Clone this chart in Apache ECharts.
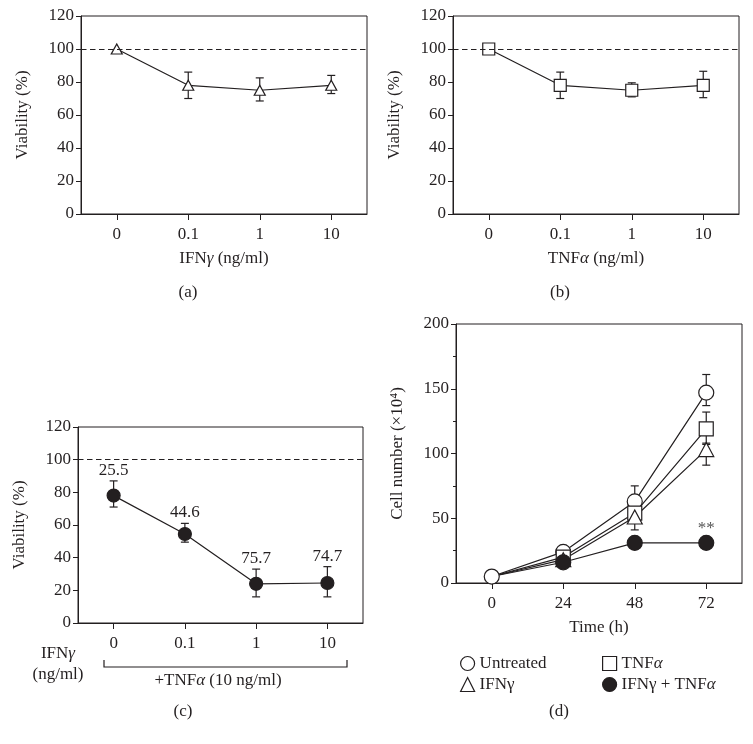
<!DOCTYPE html>
<html>
<head>
<meta charset="utf-8">
<script src="https://cdn.jsdelivr.net/npm/echarts@6/dist/echarts.min.js"></script>
<style>html,body{margin:0;padding:0;background:#fff}#c{width:753px;height:744px}</style>
</head>
<body>
<div id="c"></div>
<script>
// ---------- data ----------
const dosesABC = ['0', '0.1', '1', '10'];
const valsA = [100, 78, 75, 78];
const lowA  = [100, 70, 68.5, 73];
const highA = [100, 86, 82.5, 84];

const valsB = [100, 78, 75, 78];
const lowB  = [100, 70, 71, 70.5];
const highB = [100, 86, 79.5, 86.5];

const valsC = [78, 54.5, 24, 24.5];
const lowC  = [71, 49.5, 16, 16];
const highC = [87, 61, 33, 34.5];
const labelsC = ['25.5', '44.6', '75.7', '74.7'];

const timesD = ['0', '24', '48', '72'];
const untreated     = [5, 24, 63, 147];
const untreatedLow  = [5, 24, 52, 137];
const untreatedHigh = [5, 24, 75, 161];
const tnf     = [5, 20, 54, 119];
const tnfLow  = [5, 20, 50, 107];
const tnfHigh = [5, 20, 58, 132];
const ifn     = [5, 18, 51, 103];
const ifnLow  = [5, 18, 41, 91];
const ifnHigh = [5, 18, 55, 108];
const combo     = [5, 16, 31, 31];
const comboLow  = [5, 16, 31, 31];
const comboHigh = [5, 16, 31, 31];
const comboMark = ['', '', '', '**'];

const viabilityTicks = {min: 0, max: 120, interval: 20};
const cellTicks = {min: 0, max: 200, interval: 50};
const reference = 100;

// ---------- styles ----------
const INK = '#231f20';
const FONT = 'Liberation Serif';
const FS = 17;
const FONTCSS = FS + 'px "' + FONT + '"';
const RICH = {i: {fontStyle: 'italic', fontFamily: FONT, fontSize: FS, color: INK}};

function xAxis(idx, cats, name) {
  return {
    type: 'category', gridIndex: idx, data: cats, boundaryGap: true,
    axisLine: {show: true, lineStyle: {color: INK, width: 1}},
    axisTick: {show: true, alignWithLabel: true, length: 6, lineStyle: {color: INK}},
    axisLabel: {color: INK, fontFamily: FONT, fontSize: FS, margin: 12},
    splitLine: {show: false},
    name: name || '', nameLocation: 'middle', nameGap: 36,
    nameTextStyle: {color: INK, fontFamily: FONT, fontSize: FS, rich: RICH}
  };
}
function yAxis(idx, t, name, minor) {
  return {
    type: 'value', gridIndex: idx, min: t.min, max: t.max, interval: t.interval,
    axisLine: {show: true, lineStyle: {color: INK, width: 1}},
    axisTick: {show: true, length: 5, lineStyle: {color: INK}},
    minorTick: {show: !!minor, splitNumber: 2, length: 3, lineStyle: {color: INK}},
    axisLabel: {color: INK, fontFamily: FONT, fontSize: FS, margin: 7},
    splitLine: {show: false},
    name: name, nameLocation: 'middle', nameGap: 50,
    nameTextStyle: {color: INK, fontFamily: FONT, fontSize: FS}
  };
}
function errSeries(idx, low, high, cap) {
  return {
    type: 'custom', xAxisIndex: idx, yAxisIndex: idx, z: 1, silent: true,
    data: low.map((l, i) => [i, l, high[i]]),
    encode: {x: 0, y: [1, 2]},
    renderItem: function (params, api) {
      const lo = api.value(1), hi = api.value(2);
      if (lo === hi) return null;
      const p1 = api.coord([api.value(0), lo]);
      const p2 = api.coord([api.value(0), hi]);
      const st = {stroke: INK, lineWidth: 1.2};
      return {type: 'group', children: [
        {type: 'line', shape: {x1: p1[0], y1: p1[1], x2: p2[0], y2: p2[1]}, style: st},
        {type: 'line', shape: {x1: p1[0] - cap, y1: p1[1], x2: p1[0] + cap, y2: p1[1]}, style: st},
        {type: 'line', shape: {x1: p2[0] - cap, y1: p2[1], x2: p2[0] + cap, y2: p2[1]}, style: st}
      ]};
    }
  };
}
function textSeries(idx, vals, texts, offset, color) {
  return {
    type: 'custom', xAxisIndex: idx, yAxisIndex: idx, z: 5, silent: true,
    data: vals.map((v, i) => [i, v]),
    encode: {x: 0, y: 1},
    renderItem: function (params, api) {
      const t = texts[params.dataIndex];
      if (!t) return null;
      const p = api.coord([api.value(0), api.value(1)]);
      return {type: 'text', x: p[0], y: p[1] - offset,
        style: {text: t, fill: color || INK, font: FONTCSS, align: 'center', verticalAlign: 'bottom'}};
    }
  };
}
function lineSeries(idx, name, vals, symbol, size, fill, extra, hideFirst) {
  return Object.assign({
    type: 'line', name: name, xAxisIndex: idx, yAxisIndex: idx, z: 3,
    // the shared starting point (t = 0) is drawn once, by the untreated series
    data: vals.map((v, i) => (hideFirst && i === 0) ? {value: v, symbol: 'none'} : v),
    symbol: symbol, symbolSize: size, showSymbol: true,
    itemStyle: {color: fill, borderColor: INK, borderWidth: 1.2},
    lineStyle: {color: INK, width: 1.2},
    emphasis: {disabled: true}
  }, extra || {});
}
const refLine = {
  silent: true, symbol: 'none', label: {show: false},
  lineStyle: {color: INK, type: [5.5, 3.5], width: 1.2},
  data: [{yAxis: reference}]
};

const grids = [
  {left: 81, top: 16, width: 286, height: 198},
  {left: 453, top: 16, width: 286, height: 198},
  {left: 78, top: 427, width: 285, height: 196},
  {left: 456, top: 324, width: 286, height: 259}
].map(g => Object.assign({show: true, borderColor: INK, borderWidth: 1, backgroundColor: 'transparent'}, g));

const legendText = {color: INK, fontFamily: FONT, fontSize: FS, rich: RICH};
const legendFmt = n => n.replace(/α/g, '{i|α}');

function label(text, x, y, extra) {
  return {type: 'text', x: x, y: y, silent: true,
    style: Object.assign({text: text, font: FONTCSS, fill: INK, align: 'center', verticalAlign: 'middle'}, extra || {})};
}

const option = {
  animation: false,
  backgroundColor: '#fff',
  textStyle: {fontFamily: FONT},
  grid: grids,
  xAxis: [
    xAxis(0, dosesABC, 'IFN{i|γ} (ng/ml)'),
    xAxis(1, dosesABC, 'TNF{i|α} (ng/ml)'),
    xAxis(2, dosesABC, ''),
    xAxis(3, timesD, 'Time (h)')
  ],
  yAxis: [
    yAxis(0, viabilityTicks, 'Viability (%)'),
    yAxis(1, viabilityTicks, 'Viability (%)'),
    yAxis(2, viabilityTicks, 'Viability (%)'),
    yAxis(3, cellTicks, 'Cell number (×10⁴)', true)
  ],
  legend: [
    {orient: 'vertical', left: 455, top: 650, itemWidth: 14, itemHeight: 14, itemGap: 4,
     textStyle: legendText, formatter: legendFmt, selectedMode: false,
     data: [
       {name: 'Untreated', icon: 'circle', itemStyle: {color: '#fff', borderColor: INK, borderWidth: 1.2}},
       {name: 'IFNγ', icon: 'triangle', itemStyle: {color: '#fff', borderColor: INK, borderWidth: 1.2}}
     ]},
    {orient: 'vertical', left: 597, top: 650, itemWidth: 14, itemHeight: 14, itemGap: 4,
     textStyle: legendText, formatter: legendFmt, selectedMode: false,
     data: [
       {name: 'TNFα', icon: 'rect', itemStyle: {color: '#fff', borderColor: INK, borderWidth: 1.2}},
       {name: 'IFNγ + TNFα', icon: 'circle', itemStyle: {color: INK, borderColor: INK, borderWidth: 1.2}}
     ]}
  ],
  series: [
    // (a)
    errSeries(0, lowA, highA, 4),
    lineSeries(0, 'a', valsA, 'triangle', [11, 10], '#fff', {markLine: refLine}),
    // (b)
    errSeries(1, lowB, highB, 4),
    lineSeries(1, 'b', valsB, 'rect', 12, '#fff', {markLine: refLine}),
    // (c)
    errSeries(2, lowC, highC, 4),
    lineSeries(2, 'c', valsC, 'circle', 13, INK, {markLine: refLine}),
    textSeries(2, highC, labelsC, 2),
    // (d)
    errSeries(3, untreatedLow, untreatedHigh, 4),
    errSeries(3, tnfLow, tnfHigh, 4),
    errSeries(3, ifnLow, ifnHigh, 4),
    errSeries(3, comboLow, comboHigh, 4),
    lineSeries(3, 'Untreated', untreated, 'circle', 15, '#fff'),
    lineSeries(3, 'TNFα', tnf, 'rect', 14, '#fff', null, true),
    lineSeries(3, 'IFNγ', ifn, 'triangle', [15, 14], '#fff', null, true),
    lineSeries(3, 'IFNγ + TNFα', combo, 'circle', 15, INK, null, true),
    textSeries(3, combo, comboMark, 6, '#555')
  ],
  graphic: [
    label('(a)', 188, 293),
    label('(b)', 560, 293),
    label('(c)', 183, 712),
    label('(d)', 559, 712),
    label('IFN{i|γ}', 58, 654, {rich: RICH}),
    label('(ng/ml)', 58, 675),
    {type: 'polyline', silent: true, shape: {points: [[104, 660], [104, 667], [347, 667], [347, 660]]},
     style: {stroke: INK, lineWidth: 1.2, fill: null}},
    label('+TNF{i|α} (10 ng/ml)', 218, 681, {rich: RICH})
  ]
};

const chart = echarts.init(document.getElementById('c'), null, {renderer: 'canvas'});
chart.setOption(option);
</script>
</body>
</html>
